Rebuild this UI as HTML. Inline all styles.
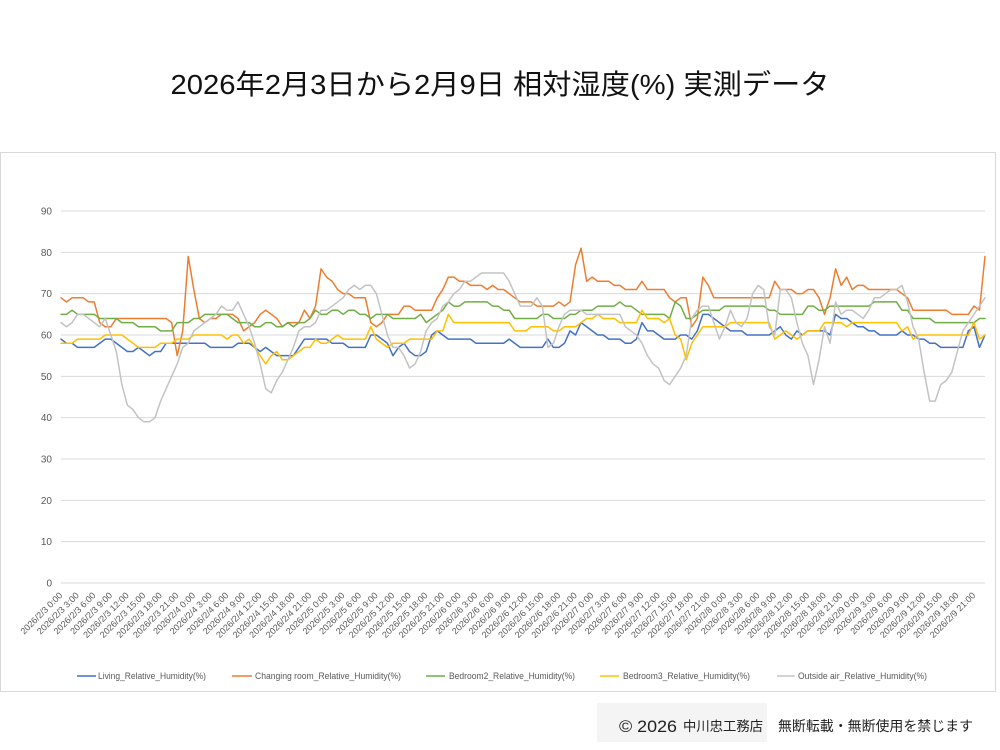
<!DOCTYPE html>
<html><head><meta charset="utf-8"><style>
html,body{margin:0;padding:0;background:#fff;}
svg{display:block;}
text{font-family:"Liberation Sans","Noto Sans CJK JP",sans-serif;}
</style></head><body>
<svg width="1000" height="750" viewBox="0 0 1000 750" xmlns="http://www.w3.org/2000/svg">
<rect width="1000" height="750" fill="#fff"/>
<text x="500" y="94" font-size="28" fill="#111" text-anchor="middle" textLength="659" lengthAdjust="spacingAndGlyphs">2026年2月3日から2月9日 相対湿度(%) 実測データ</text>
<rect x="0.5" y="152.5" width="995" height="539" fill="#fff" stroke="#d9d9d9" stroke-width="1"/>
<g stroke="#d9d9d9" stroke-width="1">
<line x1="61" x2="985" y1="583" y2="583"/>
<line x1="61" x2="985" y1="541.67" y2="541.67"/>
<line x1="61" x2="985" y1="500.33" y2="500.33"/>
<line x1="61" x2="985" y1="459" y2="459"/>
<line x1="61" x2="985" y1="417.67" y2="417.67"/>
<line x1="61" x2="985" y1="376.33" y2="376.33"/>
<line x1="61" x2="985" y1="335" y2="335"/>
<line x1="61" x2="985" y1="293.67" y2="293.67"/>
<line x1="61" x2="985" y1="252.33" y2="252.33"/>
<line x1="61" x2="985" y1="211" y2="211"/>
</g>
<g font-size="10" fill="#595959" text-anchor="end">
<text x="52" y="586.5">0</text>
<text x="52" y="545.2">10</text>
<text x="52" y="503.8">20</text>
<text x="52" y="462.5">30</text>
<text x="52" y="421.2">40</text>
<text x="52" y="379.8">50</text>
<text x="52" y="338.5">60</text>
<text x="52" y="297.2">70</text>
<text x="52" y="255.8">80</text>
<text x="52" y="214.5">90</text>
</g>
<g transform="translate(61,583) scale(5.53293,-4.13333)" fill="none" stroke-width="1.5" stroke-linejoin="round" stroke-linecap="round">
<polyline vector-effect="non-scaling-stroke" stroke="#4472C4" points="0,59 1,58 2,58 3,57 4,57 5,57 6,57 7,58 8,59 9,59 10,58 11,57 12,56 13,56 14,57 15,56 16,55 17,56 18,56 19,58 20,58 21,58 22,58 23,58 24,58 25,58 26,58 27,57 28,57 29,57 30,57 31,57 32,58 33,58 34,58 35,57 36,56 37,57 38,56 39,55 40,55 41,55 42,55 43,57 44,59 45,59 46,59 47,59 48,59 49,58 50,58 51,58 52,57 53,57 54,57 55,57 56,60 57,60 58,59 59,58 60,55 61,57 62,58 63,56 64,55 65,55 66,56 67,60 68,61 69,60 70,59 71,59 72,59 73,59 74,59 75,58 76,58 77,58 78,58 79,58 80,58 81,59 82,58 83,57 84,57 85,57 86,57 87,57 88,59 89,57 90,57 91,58 92,61 93,60 94,63 95,62 96,61 97,60 98,60 99,59 100,59 101,59 102,58 103,58 104,59 105,63 106,61 107,61 108,60 109,59 110,59 111,59 112,60 113,60 114,59 115,61 116,65 117,65 118,64 119,63 120,62 121,61 122,61 123,61 124,60 125,60 126,60 127,60 128,60 129,61 130,62 131,60 132,59 133,61 134,60 135,61 136,61 137,61 138,61 139,60 140,65 141,64 142,64 143,63 144,62 145,62 146,61 147,61 148,60 149,60 150,60 151,60 152,61 153,60 154,60 155,59 156,59 157,58 158,58 159,57 160,57 161,57 162,57 163,57 164,61 165,62 166,57 167,60"/>
<polyline vector-effect="non-scaling-stroke" stroke="#ED7D31" points="0,69 1,68 2,69 3,69 4,69 5,68 6,68 7,63 8,62 9,62 10,64 11,64 12,64 13,64 14,64 15,64 16,64 17,64 18,64 19,64 20,63 21,55 22,61 23,79 24,71 25,64 26,63 27,64 28,64 29,65 30,65 31,65 32,64 33,61 34,62 35,63 36,65 37,66 38,65 39,64 40,62 41,63 42,63 43,63 44,66 45,64 46,67 47,76 48,74 49,73 50,71 51,70 52,70 53,69 54,69 55,69 56,63 57,62 58,63 59,65 60,65 61,65 62,67 63,67 64,66 65,66 66,66 67,66 68,69 69,71 70,74 71,74 72,73 73,73 74,72 75,72 76,72 77,71 78,72 79,71 80,71 81,70 82,69 83,68 84,68 85,68 86,67 87,67 88,67 89,67 90,68 91,67 92,68 93,77 94,81 95,73 96,74 97,73 98,73 99,73 100,72 101,72 102,71 103,71 104,71 105,73 106,71 107,71 108,71 109,71 110,69 111,68 112,69 113,69 114,62 115,64 116,74 117,72 118,69 119,69 120,69 121,69 122,69 123,69 124,69 125,69 126,69 127,69 128,69 129,73 130,71 131,71 132,71 133,70 134,70 135,71 136,71 137,69 138,65 139,69 140,76 141,72 142,74 143,71 144,72 145,72 146,71 147,71 148,71 149,71 150,71 151,71 152,70 153,69 154,66 155,66 156,66 157,66 158,66 159,66 160,66 161,65 162,65 163,65 164,65 165,67 166,66 167,79"/>
<polyline vector-effect="non-scaling-stroke" stroke="#70AD47" points="0,65 1,65 2,66 3,65 4,65 5,65 6,65 7,64 8,64 9,64 10,64 11,63 12,63 13,63 14,62 15,62 16,62 17,62 18,61 19,61 20,61 21,63 22,63 23,63 24,64 25,64 26,65 27,65 28,65 29,65 30,65 31,64 32,63 33,63 34,63 35,62 36,62 37,63 38,63 39,62 40,62 41,63 42,62 43,63 44,63 45,64 46,66 47,65 48,65 49,66 50,66 51,65 52,66 53,66 54,65 55,65 56,64 57,65 58,65 59,65 60,64 61,64 62,64 63,64 64,64 65,65 66,63 67,64 68,65 69,66 70,68 71,67 72,67 73,68 74,68 75,68 76,68 77,68 78,67 79,67 80,66 81,66 82,64 83,64 84,64 85,64 86,64 87,65 88,65 89,64 90,64 91,64 92,65 93,65 94,66 95,66 96,66 97,67 98,67 99,67 100,67 101,68 102,67 103,67 104,66 105,65 106,65 107,65 108,65 109,65 110,64 111,68 112,67 113,64 114,64 115,65 116,66 117,66 118,66 119,66 120,67 121,67 122,67 123,67 124,67 125,67 126,67 127,67 128,66 129,66 130,65 131,65 132,65 133,65 134,65 135,67 136,67 137,66 138,66 139,67 140,67 141,67 142,67 143,67 144,67 145,67 146,67 147,68 148,68 149,68 150,68 151,68 152,66 153,66 154,64 155,64 156,64 157,64 158,63 159,63 160,63 161,63 162,63 163,63 164,63 165,63 166,64 167,64"/>
<polyline vector-effect="non-scaling-stroke" stroke="#FFC000" points="0,58 1,58 2,58 3,59 4,59 5,59 6,59 7,59 8,60 9,60 10,60 11,60 12,59 13,58 14,57 15,57 16,57 17,57 18,58 19,58 20,58 21,59 22,59 23,59 24,60 25,60 26,60 27,60 28,60 29,60 30,59 31,60 32,60 33,58 34,59 35,57 36,55 37,53 38,55 39,56 40,54 41,54 42,55 43,56 44,57 45,57 46,59 47,58 48,58 49,59 50,60 51,59 52,59 53,59 54,59 55,59 56,62 57,59 58,58 59,57 60,58 61,58 62,58 63,59 64,59 65,59 66,59 67,59 68,61 69,61 70,65 71,63 72,63 73,63 74,63 75,63 76,63 77,63 78,63 79,63 80,63 81,63 82,61 83,61 84,61 85,62 86,62 87,62 88,62 89,61 90,61 91,62 92,62 93,62 94,63 95,64 96,64 97,65 98,64 99,64 100,64 101,63 102,63 103,63 104,63 105,66 106,64 107,64 108,64 109,63 110,64 111,60 112,59 113,54 114,58 115,60 116,62 117,62 118,62 119,62 120,62 121,63 122,63 123,63 124,63 125,63 126,63 127,63 128,63 129,59 130,60 131,61 132,60 133,59 134,60 135,61 136,61 137,61 138,63 139,63 140,63 141,63 142,62 143,63 144,63 145,63 146,63 147,63 148,63 149,63 150,63 151,63 152,61 153,62 154,59 155,60 156,60 157,60 158,60 159,60 160,60 161,60 162,60 163,60 164,60 165,63 166,59 167,60"/>
<polyline vector-effect="non-scaling-stroke" stroke="#C3C3C3" points="0,63 1,62 2,63 3,65 4,65 5,64 6,63 7,62 8,64 9,60 10,56 11,48 12,43 13,42 14,40 15,39 16,39 17,40 18,44 19,47 20,50 21,53 22,57 23,58 24,61 25,62 26,63 27,64 28,65 29,67 30,66 31,66 32,68 33,65 34,62 35,58 36,53 37,47 38,46 39,49 40,51 41,54 42,57 43,61 44,62 45,62 46,63 47,66 48,66 49,67 50,68 51,69 52,71 53,72 54,71 55,72 56,72 57,70 58,65 59,60 60,57 61,57 62,55 63,52 64,53 65,56 66,61 67,63 68,64 69,67 70,68 71,70 72,71 73,73 74,73 75,74 76,75 77,75 78,75 79,75 80,75 81,73 82,70 83,67 84,67 85,67 86,69 87,67 88,57 89,58 90,62 91,65 92,66 93,66 94,66 95,65 96,65 97,65 98,65 99,65 100,65 101,65 102,62 103,61 104,60 105,58 106,55 107,53 108,52 109,49 110,48 111,50 112,52 113,55 114,64 115,66 116,67 117,67 118,63 119,59 120,62 121,66 122,63 123,62 124,64 125,70 126,72 127,71 128,62 129,60 130,71 131,71 132,69 133,63 134,58 135,55 136,48 137,54 138,62 139,58 140,68 141,65 142,66 143,66 144,65 145,64 146,66 147,69 148,69 149,70 150,71 151,71 152,72 153,68 154,62 155,59 156,51 157,44 158,44 159,48 160,49 161,51 162,56 163,61 164,63 165,65 166,67 167,69"/>
</g>
<g font-size="9" fill="#595959" text-anchor="end">
<text transform="translate(63,596) rotate(-45)">2026/2/3 0:00</text>
<text transform="translate(79.6,596) rotate(-45)">2026/2/3 3:00</text>
<text transform="translate(96.2,596) rotate(-45)">2026/2/3 6:00</text>
<text transform="translate(112.8,596) rotate(-45)">2026/2/3 9:00</text>
<text transform="translate(129.4,596) rotate(-45)">2026/2/3 12:00</text>
<text transform="translate(146,596) rotate(-45)">2026/2/3 15:00</text>
<text transform="translate(162.6,596) rotate(-45)">2026/2/3 18:00</text>
<text transform="translate(179.2,596) rotate(-45)">2026/2/3 21:00</text>
<text transform="translate(195.8,596) rotate(-45)">2026/2/4 0:00</text>
<text transform="translate(212.4,596) rotate(-45)">2026/2/4 3:00</text>
<text transform="translate(229,596) rotate(-45)">2026/2/4 6:00</text>
<text transform="translate(245.6,596) rotate(-45)">2026/2/4 9:00</text>
<text transform="translate(262.2,596) rotate(-45)">2026/2/4 12:00</text>
<text transform="translate(278.8,596) rotate(-45)">2026/2/4 15:00</text>
<text transform="translate(295.4,596) rotate(-45)">2026/2/4 18:00</text>
<text transform="translate(312,596) rotate(-45)">2026/2/4 21:00</text>
<text transform="translate(328.6,596) rotate(-45)">2026/2/5 0:00</text>
<text transform="translate(345.2,596) rotate(-45)">2026/2/5 3:00</text>
<text transform="translate(361.8,596) rotate(-45)">2026/2/5 6:00</text>
<text transform="translate(378.4,596) rotate(-45)">2026/2/5 9:00</text>
<text transform="translate(395,596) rotate(-45)">2026/2/5 12:00</text>
<text transform="translate(411.6,596) rotate(-45)">2026/2/5 15:00</text>
<text transform="translate(428.2,596) rotate(-45)">2026/2/5 18:00</text>
<text transform="translate(444.8,596) rotate(-45)">2026/2/5 21:00</text>
<text transform="translate(461.4,596) rotate(-45)">2026/2/6 0:00</text>
<text transform="translate(478,596) rotate(-45)">2026/2/6 3:00</text>
<text transform="translate(494.6,596) rotate(-45)">2026/2/6 6:00</text>
<text transform="translate(511.2,596) rotate(-45)">2026/2/6 9:00</text>
<text transform="translate(527.8,596) rotate(-45)">2026/2/6 12:00</text>
<text transform="translate(544.4,596) rotate(-45)">2026/2/6 15:00</text>
<text transform="translate(561,596) rotate(-45)">2026/2/6 18:00</text>
<text transform="translate(577.6,596) rotate(-45)">2026/2/6 21:00</text>
<text transform="translate(594.2,596) rotate(-45)">2026/2/7 0:00</text>
<text transform="translate(610.8,596) rotate(-45)">2026/2/7 3:00</text>
<text transform="translate(627.4,596) rotate(-45)">2026/2/7 6:00</text>
<text transform="translate(644,596) rotate(-45)">2026/2/7 9:00</text>
<text transform="translate(660.6,596) rotate(-45)">2026/2/7 12:00</text>
<text transform="translate(677.2,596) rotate(-45)">2026/2/7 15:00</text>
<text transform="translate(693.8,596) rotate(-45)">2026/2/7 18:00</text>
<text transform="translate(710.4,596) rotate(-45)">2026/2/7 21:00</text>
<text transform="translate(727,596) rotate(-45)">2026/2/8 0:00</text>
<text transform="translate(743.6,596) rotate(-45)">2026/2/8 3:00</text>
<text transform="translate(760.2,596) rotate(-45)">2026/2/8 6:00</text>
<text transform="translate(776.8,596) rotate(-45)">2026/2/8 9:00</text>
<text transform="translate(793.3,596) rotate(-45)">2026/2/8 12:00</text>
<text transform="translate(809.9,596) rotate(-45)">2026/2/8 15:00</text>
<text transform="translate(826.5,596) rotate(-45)">2026/2/8 18:00</text>
<text transform="translate(843.1,596) rotate(-45)">2026/2/8 21:00</text>
<text transform="translate(859.7,596) rotate(-45)">2026/2/9 0:00</text>
<text transform="translate(876.3,596) rotate(-45)">2026/2/9 3:00</text>
<text transform="translate(892.9,596) rotate(-45)">2026/2/9 6:00</text>
<text transform="translate(909.5,596) rotate(-45)">2026/2/9 9:00</text>
<text transform="translate(926.1,596) rotate(-45)">2026/2/9 12:00</text>
<text transform="translate(942.7,596) rotate(-45)">2026/2/9 15:00</text>
<text transform="translate(959.3,596) rotate(-45)">2026/2/9 18:00</text>
<text transform="translate(976,596) rotate(-45)">2026/2/9 21:00</text>
</g>
<g stroke-width="1.5">
<line x1="77" x2="96" y1="676" y2="676" stroke="#4472C4"/>
<line x1="232" x2="252" y1="676" y2="676" stroke="#ED7D31"/>
<line x1="426" x2="445" y1="676" y2="676" stroke="#70AD47"/>
<line x1="600" x2="619" y1="676" y2="676" stroke="#FFC000"/>
<line x1="777" x2="795" y1="676" y2="676" stroke="#C3C3C3"/>
</g>
<g font-size="9.5" fill="#595959">
<text x="98" y="679" textLength="108" lengthAdjust="spacingAndGlyphs">Living_Relative_Humidity(%)</text>
<text x="255" y="679" textLength="146" lengthAdjust="spacingAndGlyphs">Changing room_Relative_Humidity(%)</text>
<text x="449" y="679" textLength="126" lengthAdjust="spacingAndGlyphs">Bedroom2_Relative_Humidity(%)</text>
<text x="623" y="679" textLength="127" lengthAdjust="spacingAndGlyphs">Bedroom3_Relative_Humidity(%)</text>
<text x="798" y="679" textLength="129" lengthAdjust="spacingAndGlyphs">Outside air_Relative_Humidity(%)</text>
</g>
<rect x="597" y="703" width="170" height="39" fill="#f4f4f4"/>
<text x="619" y="732" font-size="17" fill="#222" textLength="58" lengthAdjust="spacingAndGlyphs">© 2026</text>
<text x="683" y="731" font-size="13.5" fill="#222" textLength="80" lengthAdjust="spacingAndGlyphs">中川忠工務店</text>
<text x="778" y="731" font-size="14" fill="#222" textLength="195" lengthAdjust="spacingAndGlyphs">無断転載・無断使用を禁じます</text>
</svg>
</body></html>
